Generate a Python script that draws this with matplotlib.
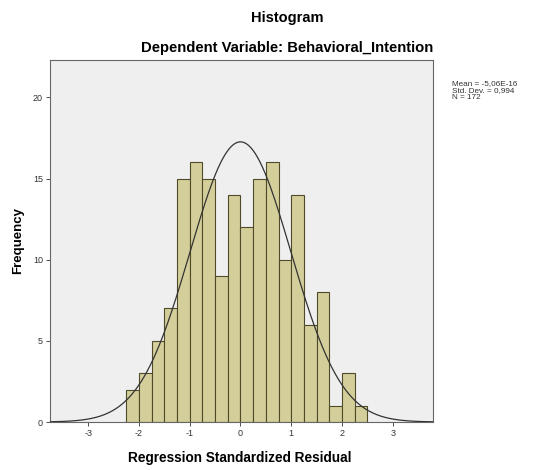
import numpy as np
import matplotlib
matplotlib.use("Agg")
import matplotlib.pyplot as plt

plt.rcParams['font.family'] = ['Liberation Sans', 'DejaVu Sans']
plt.rcParams['axes.unicode_minus'] = False

# ======================
# DATOS
# ======================
bin_edges = [-2.25, -2.0, -1.75, -1.5, -1.25, -1.0, -0.75, -0.5, -0.25, 0.0,
             0.25, 0.5, 0.75, 1.0, 1.25, 1.5, 1.75, 2.0, 2.25, 2.5]
counts = [2, 3, 5, 7, 15, 16, 15, 9, 14, 12, 15, 16, 10, 14, 6, 8, 1, 3, 1]

mean_val = -5.06e-16
std_val = 0.994
n_val = 172

x_ticks = [-3, -2, -1, 0, 1, 2, 3]
y_ticks = [0, 5, 10, 15, 20]

# ======================
# GRAFICAR
# ======================
fig = plt.figure(figsize=(5.39, 4.70), dpi=100)
ax = fig.add_axes([50/539, 48/470, 383/539, 362/470])
ax.set_facecolor("#efefef")

lefts = bin_edges[:-1]
widths = np.diff(bin_edges)
ax.bar(lefts, counts, width=widths, align="edge",
       color="#d4cf9a", edgecolor="#4f4a2a", linewidth=0.8, zorder=2)

# curva normal
xs = np.linspace(-3.75, 3.8, 400)
bw = widths[0]
ys = n_val * bw / (std_val * np.sqrt(2 * np.pi)) * np.exp(-0.5 * ((xs - mean_val) / std_val) ** 2)
ax.plot(xs, ys, color="#333333", linewidth=0.9, zorder=3)

ax.set_xlim(-3.75, 3.79)
ax.set_ylim(0, 22.3)
ax.set_xticks(x_ticks)
ax.set_yticks(y_ticks)
ax.tick_params(labelsize=6.5, length=3, width=0.6, colors="#333333", pad=2)

for s in ax.spines.values():
    s.set_color("#666666")
    s.set_linewidth(0.8)

fig.text(287/539, 1 - 18/470, "Histogram", ha="center", va="center",
         fontsize=10.5, fontweight="bold")
fig.text(287/539, 1 - 48/470, "Dependent Variable: Behavioral_Intention",
         ha="center", va="center", fontsize=10.7, fontweight="bold")
fig.text(18/539, 1 - 240/470, "Frequency", rotation=90, ha="center",
         va="center", fontsize=9.5, fontweight="bold")
fig.text(240/539, 1 - 458/470, "Regression Standardized Residual",
         ha="center", va="center", fontsize=9.8, fontweight="bold")

stats_txt = "Mean = -5,06E-16\nStd. Dev. = 0,994\nN = 172"
fig.text(452/539, 1 - 80/470, stats_txt, ha="left", va="top",
         fontsize=5.9, linespacing=1.0, color="#333333")

fig.savefig("out.png", dpi=100, facecolor="white")
